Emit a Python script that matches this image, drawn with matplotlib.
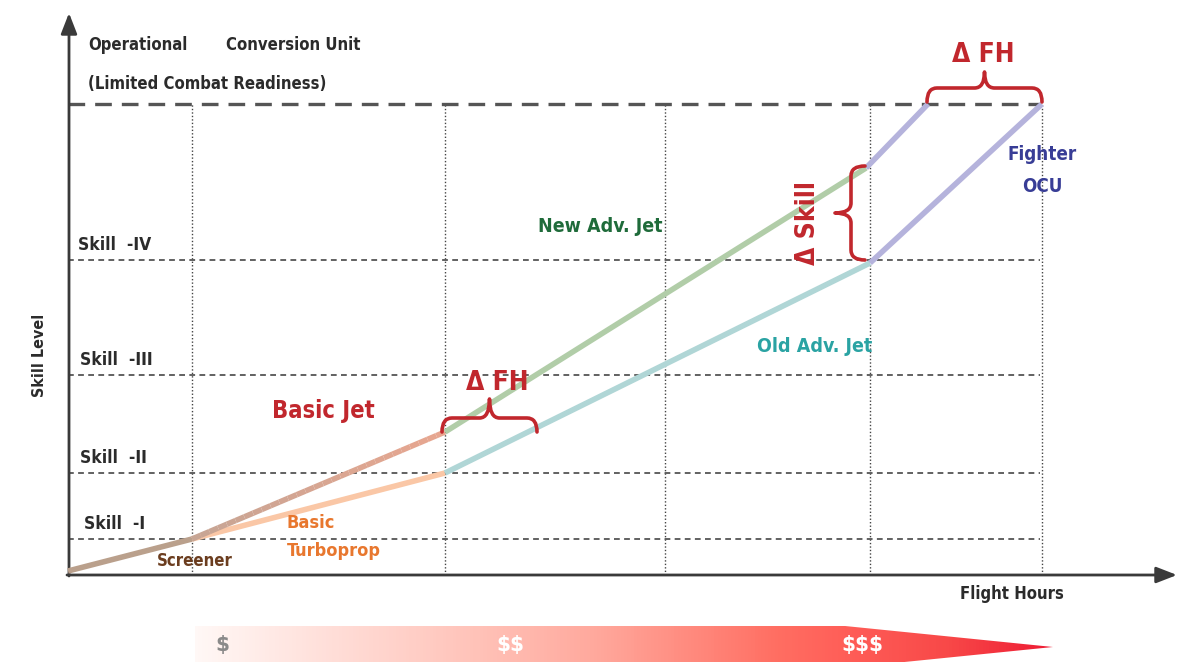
import numpy as np
import matplotlib.pyplot as plt
from matplotlib.path import Path
from matplotlib.patches import PathPatch, Polygon
from matplotlib.colors import LinearSegmentedColormap

plt.rcParams['font.family'] = ['DejaVu Sans']
plt.rcParams['font.stretch'] = 'condensed'
plt.rcParams['font.weight'] = 'bold'

# Phase boundaries along the flight-hours axis (arbitrary units)
phase_x = [12.4, 37.7, 59.7, 80.2, 97.4]
phase_top = 47.1

# Skill levels
skill_names = ['Skill  -I', 'Skill  -II', 'Skill  -III', 'Skill  -IV']
skill_y = [3.6, 10.2, 20.0, 31.5]
skill_label_x = [1.6, 1.2, 1.2, 1.0]
ocu_level = 47.1

# Training tracks
screener_x = [0.0, 12.4]
screener_y = [0.4, 3.6]
basic_jet_x = [12.4, 37.7]
basic_jet_y = [3.6, 14.3]
turboprop_x = [12.4, 37.7]
turboprop_y = [3.6, 10.2]
new_adv_x = [37.7, 79.8]
new_adv_y = [14.3, 40.7]
old_adv_x = [37.7, 80.2]
old_adv_y = [10.2, 31.2]
ocu_new_x = [79.8, 86.0]
ocu_new_y = [40.7, 47.1]
ocu_old_x = [80.2, 97.4]
ocu_old_y = [31.2, 47.1]

# Cost labels under the axis
cost_labels = [r'\$', r'\$\$', r'\$\$\$']
cost_x = [15.4, 44.2, 79.4]
cost_colors = ['#8a8a8a', 'white', 'white']

RED = '#c1272d'
AXIS = '#3a3a3a'

fig = plt.figure(figsize=(11.86, 6.62), dpi=100)
ax = fig.add_axes([0, 0, 1, 1])
ax.set_axis_off()


def brace(ax, x0, x1, base, bar, tip, vertical=False, **kw):
    # curly brace from x0 to x1, ends at 'base', bar at 'bar', point at 'tip'
    xm = (x0 + x1) / 2
    r = 1.0 if x1 > x0 else -1.0
    pts = [(x0, base), (x0, bar), (x0 + r, bar), (xm - r, bar), (xm, bar), (xm, tip),
           (xm, bar), (xm + r, bar), (x1 - r, bar), (x1, bar), (x1, base)]
    codes = [Path.MOVETO, Path.CURVE3, Path.CURVE3, Path.LINETO, Path.CURVE3, Path.CURVE3,
             Path.CURVE3, Path.CURVE3, Path.LINETO, Path.CURVE3, Path.CURVE3]
    if vertical:
        pts = [(p[1], p[0]) for p in pts]
    ax.add_patch(PathPatch(Path(pts, codes), fill=False, capstyle='round',
                           joinstyle='round', **kw))


# grid-like guides
for x in phase_x:
    ax.plot([x, x], [0, phase_top], color='#444444', lw=1.0, ls=(0, (1, 1.5)), zorder=1)
for y in skill_y:
    ax.plot([0, 97.2], [y, y], color='#555555', lw=1.3, ls=(0, (3.2, 2.4)), zorder=1)
ax.plot([0, 97.2], [ocu_level, ocu_level], color='#555555', lw=2.4, ls=(0, (5, 3)), zorder=1)

# axes arrows
ax.annotate('', xy=(0.1, 56.2), xytext=(0.1, -0.1),
            arrowprops=dict(arrowstyle='-|>,head_length=0.9,head_width=0.35',
                            mutation_scale=14, lw=2, color=AXIS, shrinkA=0, shrinkB=0))
ax.annotate('', xy=(110.9, 0), xytext=(-0.1, 0),
            arrowprops=dict(arrowstyle='-|>,head_length=0.9,head_width=0.35',
                            mutation_scale=14, lw=2, color=AXIS, shrinkA=0, shrinkB=0))

# training tracks
lw = 4.0
ax.plot(screener_x, screener_y, color='#baa08c', lw=lw, solid_capstyle='butt', zorder=3)
ax.plot(turboprop_x, turboprop_y, color='#fac7a6', lw=lw, solid_capstyle='butt', zorder=3)
# basic jet fades from brown to salmon
bj_t = np.linspace(0, 1, 30)
bj_c = LinearSegmentedColormap.from_list('bj', ['#c6a594', '#e8a690'])
for a, b in zip(bj_t[:-1], bj_t[1:]):
    xs = [basic_jet_x[0] + a * (basic_jet_x[1] - basic_jet_x[0]),
          basic_jet_x[0] + b * (basic_jet_x[1] - basic_jet_x[0])]
    ys = [basic_jet_y[0] + a * (basic_jet_y[1] - basic_jet_y[0]),
          basic_jet_y[0] + b * (basic_jet_y[1] - basic_jet_y[0])]
    ax.plot(xs, ys, color=bj_c((a + b) / 2), lw=lw, solid_capstyle='butt', zorder=3)
ax.plot(new_adv_x, new_adv_y, color='#b1cda8', lw=lw, solid_capstyle='butt', zorder=3)
ax.plot(old_adv_x, old_adv_y, color='#b0d6d6', lw=lw, solid_capstyle='butt', zorder=3)
ax.plot(ocu_new_x, ocu_new_y, color='#b5b3dc', lw=lw, solid_capstyle='butt', zorder=3)
ax.plot(ocu_old_x, ocu_old_y, color='#b5b3dc', lw=lw, solid_capstyle='butt', zorder=3)

# braces
brace(ax, 37.4, 46.9, 14.3, 15.7, 17.6, color=RED, lw=2.6, zorder=4)
brace(ax, 85.9, 97.4, 47.3, 48.7, 50.3, color=RED, lw=2.6, zorder=4)
brace(ax, 31.5, 40.9, 79.7, 78.3, 76.7, vertical=True, color=RED, lw=2.6, zorder=4)

# texts
ax.text(2.0, 53.0, 'Operational', fontsize=12, color='#2b2b2b', va='center')
ax.text(15.8, 53.0, 'Conversion Unit', fontsize=12, color='#2b2b2b', va='center')
ax.text(2.0, 49.1, '(Limited Combat Readiness)', fontsize=12, color='#2b2b2b', va='center')
for name, lx, y in zip(skill_names, skill_label_x, skill_y):
    ax.text(lx, y + 1.5, name, fontsize=12.5, color='#2b2b2b', va='center')
ax.text(-2.8, 22.0, 'Skill Level', fontsize=11.5, color='#2b2b2b', rotation=90,
        ha='center', va='center')
ax.text(94.4, -1.9, 'Flight Hours', fontsize=12, color='#2b2b2b', ha='center', va='center')

ax.text(8.9, 1.4, 'Screener', fontsize=12, color='#6b3d1f', va='center')
ax.text(21.9, 5.2, 'Basic', fontsize=13, color='#e8772e', va='center')
ax.text(21.9, 2.4, 'Turboprop', fontsize=13, color='#e8772e', va='center')
ax.text(20.4, 16.4, 'Basic Jet', fontsize=17, color=RED, va='center')
ax.text(47.0, 34.8, 'New Adv. Jet', fontsize=14, color='#1f6b3a', va='center')
ax.text(68.9, 22.8, 'Old Adv. Jet', fontsize=14, color='#2aa3a3', va='center')
ax.text(97.4, 42.0, 'Fighter', fontsize=13.5, color='#383d96', ha='center', va='center')
ax.text(97.4, 38.9, 'OCU', fontsize=13.5, color='#383d96', ha='center', va='center')

ax.text(42.9, 19.2, '\u0394 FH', fontsize=19, color=RED, ha='center', va='center')
ax.text(91.5, 52.0, '\u0394 FH', fontsize=19, color=RED, ha='center', va='center')
ax.text(74.0, 35.2, '\u0394 Skill', fontsize=19, color=RED, rotation=90,
        ha='center', va='center')

# cost arrow with gradient
arrow_pts = [(12.7, -5.1), (77.7, -5.1), (98.5, -7.2), (77.7, -9.3), (12.7, -9.3)]
poly = Polygon(arrow_pts, closed=True, facecolor='none', edgecolor='none',
               transform=ax.transData)
ax.add_patch(poly)
cmap = LinearSegmentedColormap.from_list(
    'cost', [(0, '#fff8f6'), (0.33, '#ffc2b8'), (0.47, '#ffa89c'),
             (0.68, '#ff6e62'), (0.76, '#ff5e58'), (0.88, '#f84848'), (1.0, '#ee1c34')])
grad = np.linspace(0, 1, 256).reshape(1, -1)
im = ax.imshow(grad, extent=[12.7, 98.5, -9.3, -5.1], aspect='auto', cmap=cmap,
               origin='lower', zorder=2)
im.set_clip_path(poly)
for lab, x, c in zip(cost_labels, cost_x, cost_colors):
    ax.text(x, -7.0, lab, fontsize=16, color=c, ha='center', va='center', zorder=3)

ax.set_xlim(-6.8, 111.8)
ax.set_ylim(-8.7, 57.5)

fig.savefig('out.png', dpi=100)
